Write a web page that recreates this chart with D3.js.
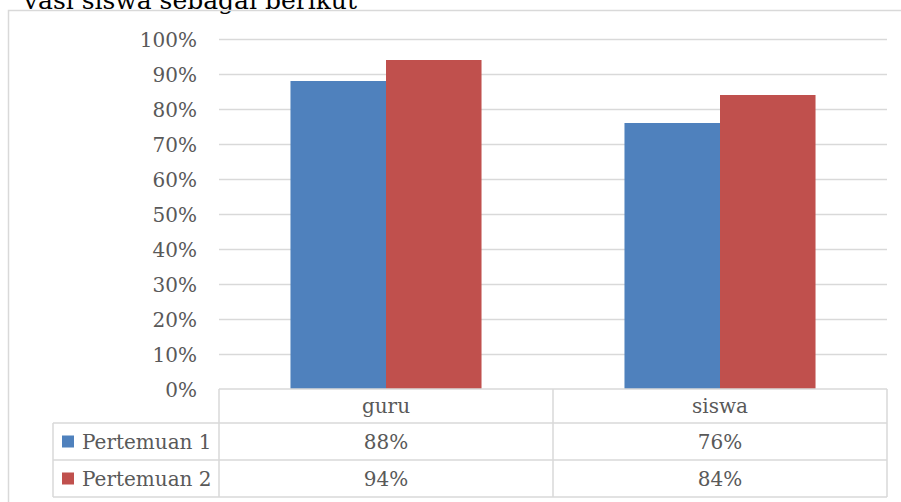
<!DOCTYPE html>
<html>
<head>
<meta charset="utf-8">
<script src="https://cdn.jsdelivr.net/npm/d3@7"></script>
<style>
  html, body { margin: 0; padding: 0; background: #fff; }
  svg { display: block; }
  text { font-family: "DejaVu Serif", "Liberation Serif", serif; }
</style>
</head>
<body>
<svg id="chart" width="901" height="502"></svg>
<script>
const categories = ["guru", "siswa"];
const seriesNames = ["Pertemuan 1", "Pertemuan 2"];
const pertemuan1 = [0.88, 0.76];
const pertemuan2 = [0.94, 0.84];
const yTicks = [0, 0.1, 0.2, 0.3, 0.4, 0.5, 0.6, 0.7, 0.8, 0.9, 1.0];
const colors = ["#4f81bd", "#c0504d"];
const headerText = "vasi siswa sebagai berikut";

const series = [pertemuan1, pertemuan2];
const svg = d3.select("#chart");
const gridColor = "#d9d9d9";
const textColor = "#595959";

// layout
const plotLeft = 219, plotRight = 887, plotTop = 39, plotBottom = 389;
const rowH = [389, 423, 460, 497];
const legendLeft = 53;

// cut-off header text above the chart
svg.append("text")
  .attr("x", 357).attr("y", 9)
  .attr("text-anchor", "end")
  .attr("font-size", 25)
  .attr("fill", "#000")
  .text(headerText);

// outer frame (left and top visible)
svg.append("path")
  .attr("d", `M8.5,${502 + 5} V10.5 H${901 + 5}`)
  .attr("fill", "none").attr("stroke", gridColor).attr("stroke-width", 1.5);

const y = d3.scaleLinear().domain([0, 1]).range([plotBottom, plotTop]);
const x0 = d3.scaleBand().domain(categories).range([plotLeft, plotRight])
  .paddingInner(0.428).paddingOuter(0.214);
const x1 = d3.scaleBand().domain(seriesNames).range([0, x0.bandwidth()]).padding(0);

// gridlines
svg.append("g").selectAll("line").data(yTicks.filter(d => d > 0)).join("line")
  .attr("x1", plotLeft).attr("x2", plotRight)
  .attr("y1", d => Math.round(y(d)) + 0.5).attr("y2", d => Math.round(y(d)) + 0.5)
  .attr("stroke", gridColor).attr("stroke-width", 1.5);

// y axis labels
const yAxis = d3.axisLeft(y).tickValues(yTicks).tickFormat(d3.format(".0%")).tickSize(0).tickPadding(0);
const gy = svg.append("g").attr("transform", "translate(197,0)").call(yAxis);
gy.select(".domain").remove();
gy.selectAll("text").attr("font-size", 20).attr("fill", textColor)
  .attr("font-family", "DejaVu Serif, serif").attr("dy", "0.36em");

// bars
const groups = svg.append("g").selectAll("g").data(categories).join("g")
  .attr("transform", d => `translate(${x0(d)},0)`);
groups.selectAll("rect")
  .data((c, i) => seriesNames.map((s, j) => ({ s, j, v: series[j][i] })))
  .join("rect")
  .attr("x", d => x1(d.s))
  .attr("width", x1.bandwidth())
  .attr("y", d => y(d.v))
  .attr("height", d => y(0) - y(d.v))
  .attr("fill", d => colors[d.j]);

// data table
const tbl = svg.append("g").attr("fill", "none").attr("stroke", gridColor).attr("stroke-width", 1.5);
// horizontal lines
tbl.append("line").attr("x1", plotLeft).attr("x2", plotRight).attr("y1", rowH[0]).attr("y2", rowH[0]);
for (let r = 1; r < rowH.length; r++) {
  tbl.append("line").attr("x1", legendLeft).attr("x2", plotRight).attr("y1", rowH[r]).attr("y2", rowH[r]);
}
// vertical lines
const bounds = [plotLeft].concat(categories.map(c => x0(c) - x0.step() * x0.paddingInner() / 2 + x0.step()));
bounds[bounds.length - 1] = plotRight;
bounds.forEach(bx => {
  tbl.append("line").attr("x1", bx).attr("x2", bx).attr("y1", rowH[0]).attr("y2", rowH[3]);
});
tbl.append("line").attr("x1", legendLeft).attr("x2", legendLeft).attr("y1", rowH[1]).attr("y2", rowH[3]);

// category header
const fmt = d3.format(".0%");
svg.append("g").selectAll("text").data(categories).join("text")
  .attr("x", d => x0(d) + x0.bandwidth() / 2)
  .attr("y", (rowH[0] + rowH[1]) / 2)
  .attr("dy", "0.36em")
  .attr("text-anchor", "middle")
  .attr("font-size", 20).attr("fill", textColor)
  .text(d => d);

// rows
seriesNames.forEach((s, j) => {
  const cy = (rowH[j + 1] + rowH[j + 2]) / 2;
  svg.append("rect").attr("x", 62).attr("y", cy - 6).attr("width", 12).attr("height", 12).attr("fill", colors[j]);
  svg.append("text").attr("x", 82).attr("y", cy).attr("dy", "0.36em")
    .attr("font-size", 20).attr("fill", textColor).text(s);
  svg.append("g").selectAll("text").data(categories).join("text")
    .attr("x", d => x0(d) + x0.bandwidth() / 2)
    .attr("y", cy).attr("dy", "0.36em")
    .attr("text-anchor", "middle")
    .attr("font-size", 20).attr("fill", textColor)
    .text((d, i) => fmt(series[j][i]));
});
</script>
</body>
</html>
